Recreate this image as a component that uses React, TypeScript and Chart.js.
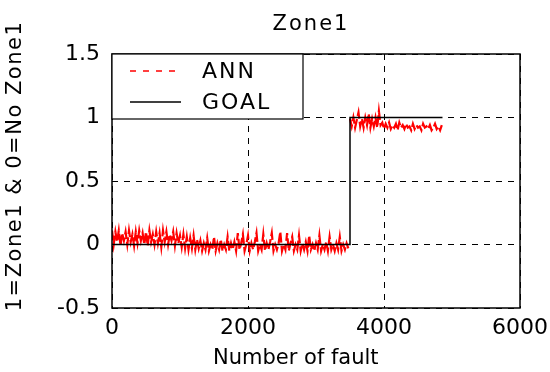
import React, { useEffect, useRef } from 'react';
import { Chart, registerables } from 'chart.js';

Chart.register(...registerables);

// ---------- text ----------
const TITLE = 'Zone1';
const X_TITLE = 'Number of fault';
const Y_TITLE = '1=Zone1 & 0=No Zone1';
const SERIES_LABELS = ['ANN', 'GOAL'];

// ---------- axes ----------
const X_MIN = 0;
const X_MAX = 6000;
const X_STEP = 2000;
const Y_MIN = -0.5;
const Y_MAX = 1.5;
const Y_STEP = 0.5;

// ---------- data ----------
// ANN output, sampled every ANN_X_STEP faults
const ANN_X_STEP = 25;
// faults 0 .. 3475 (target 0)
const annNoZone = [
  0.11, 0.00, 0.10, 0.02, 0.11, -0.01, 0.09, 0.03, 0.10, 0.00,
  0.11, 0.02, 0.08, -0.01, 0.10, 0.01, 0.11, 0.03, 0.09, 0.00,
  0.10, -0.01, 0.11, 0.02, 0.08, 0.00, 0.10, 0.01, 0.09, -0.02,
  0.11, 0.02, 0.10, 0.00, 0.08, 0.03, 0.10, -0.01, 0.09, 0.01,
  0.07, -0.02, 0.08, -0.03, 0.06, -0.04, 0.05, -0.03, 0.07, -0.04,
  0.04, -0.03,
  0.03, -0.05, 0.01, -0.04, 0.05, -0.05, 0.00, -0.04, 0.06, -0.05,
  0.01, -0.04, 0.04, -0.05, 0.00, -0.04, 0.06, -0.05, 0.01, -0.04,
  0.02, -0.05, 0.09, -0.04, 0.01, 0.08, -0.05, 0.00, 0.07, -0.05,
  0.01, -0.04, 0.02, 0.09, -0.05, 0.00, -0.04, 0.08, -0.05, 0.01,
  -0.04, 0.02, 0.09, -0.05, 0.00, -0.04, 0.01, 0.10, -0.05, 0.00,
  -0.04, 0.09, -0.05, 0.01, 0.06, -0.05, 0.00, -0.04, 0.07, -0.05,
  0.01, -0.04, 0.02, -0.05, 0.07, -0.04, 0.00, -0.05, 0.01, -0.04,
  0.07, -0.05, 0.00, -0.04, 0.02, -0.05, 0.06, -0.04, 0.00, -0.05,
  0.01, -0.04, 0.06, -0.05, 0.00, -0.04, 0.01, -0.03,
];
// faults 3500 .. 4850 (target 1)
const ZONE_START = 3500;
const annZone = [
  0.99, 0.93, 1.00, 0.92, 0.98, 1.04, 0.93, 0.99, 0.92, 1.00,
  0.94, 1.03, 0.92, 0.99, 0.93, 1.00, 0.92, 1.05, 0.94,
  0.96, 0.91, 0.95, 0.92, 0.96, 0.91, 0.94, 0.92, 0.95, 0.90,
  0.96, 0.92, 0.94, 0.91, 0.95, 0.92, 0.93, 0.90,
  0.95, 0.91, 0.94, 0.92, 0.93, 0.90, 0.95, 0.92, 0.93, 0.91,
  0.94, 0.90, 0.92, 0.95, 0.91, 0.93, 0.90, 0.94,
];

// Goal (target) step
const goalX = [0, 3500, 3500, 4860];
const goalY = [0, 0, 1, 1];

const FONT = '"DejaVu Sans", "Liberation Sans", sans-serif';

const annPoints: { x: number; y: number | null }[] = [
  ...annNoZone.map((v, i) => ({ x: i * ANN_X_STEP, y: v })),
  { x: ZONE_START - ANN_X_STEP / 2, y: null },
  ...annZone.map((v, i) => ({ x: ZONE_START + i * ANN_X_STEP, y: v })),
];

const decorPlugin = {
  id: 'decor',
  beforeDraw(chart: any) {
    const { ctx, width, height } = chart;
    ctx.save();
    ctx.fillStyle = '#fff';
    ctx.fillRect(0, 0, width, height);
    ctx.restore();
  },
  afterDatasetsDraw(chart: any) {
    const { ctx, chartArea: a } = chart;
    ctx.save();
    ctx.setLineDash([]);
    ctx.strokeStyle = '#000';
    ctx.lineWidth = 1.5;
    ctx.strokeRect(a.left, a.top, a.right - a.left, a.bottom - a.top);

    // legend box
    const bx = a.left;
    const by = a.top;
    const bw = 191;
    const bh = 65;
    ctx.fillStyle = '#fff';
    ctx.fillRect(bx, by, bw, bh);
    ctx.lineWidth = 1.2;
    ctx.strokeRect(bx, by, bw, bh);
    chart.data.datasets.forEach((ds: any, i: number) => {
      const y = by + 17 + i * 31;
      ctx.save();
      ctx.strokeStyle = ds.borderColor;
      ctx.lineWidth = i === 0 ? 1.5 : ds.borderWidth;
      ctx.setLineDash(i === 0 ? [6, 7] : []);
      ctx.beginPath();
      ctx.moveTo(bx + 18, y);
      ctx.lineTo(bx + 69, y);
      ctx.stroke();
      ctx.restore();
      ctx.fillStyle = '#000';
      ctx.font = `22px ${FONT}`;
      (ctx as any).letterSpacing = '2px';
      ctx.textAlign = 'left';
      ctx.textBaseline = 'middle';
      ctx.fillText(ds.label, bx + 90, y + 1);
    });
    ctx.restore();
  },
  afterDraw(chart: any) {
    const { ctx } = chart;
    ctx.save();
    ctx.fillStyle = '#000';
    ctx.textBaseline = 'middle';
    ctx.textAlign = 'center';
    ctx.font = `21px ${FONT}`;
    (ctx as any).letterSpacing = '2px';
    ctx.fillText(TITLE, 311, 25);
    (ctx as any).letterSpacing = '0px';
    ctx.textAlign = 'left';
    ctx.fillText(X_TITLE, 213, 359);
    ctx.translate(16, 166);
    ctx.rotate(-Math.PI / 2);
    ctx.textAlign = 'center';
    (ctx as any).letterSpacing = '1.5px';
    ctx.fillText(Y_TITLE, 0, 0);
    ctx.restore();
  },
};

export default function App() {
  const ref = useRef<HTMLCanvasElement | null>(null);

  useEffect(() => {
    if (!ref.current) return;
    Chart.defaults.color = '#000';
    Chart.defaults.font.family = FONT;
    const chart = new Chart(ref.current, {
      type: 'line',
      data: {
        datasets: [
          {
            label: SERIES_LABELS[0],
            data: annPoints,
            borderColor: '#ff0000',
            borderWidth: 2.2,
            borderDash: [10, 3],
            pointRadius: 0,
            tension: 0,
            fill: false,
            spanGaps: false,
            order: 1,
          },
          {
            label: SERIES_LABELS[1],
            data: goalX.map((x, i) => ({ x, y: goalY[i] })),
            borderColor: '#000000',
            borderWidth: 1.5,
            pointRadius: 0,
            tension: 0,
            fill: false,
            order: 0,
          },
        ],
      },
      options: {
        animation: false,
        responsive: false,
        devicePixelRatio: 1,
        events: [],
        layout: { padding: { top: 54, right: 30, left: 0, bottom: 0 } },
        plugins: {
          legend: { display: false },
          title: { display: false },
          tooltip: { enabled: false },
        },
        scales: {
          x: {
            type: 'linear',
            min: X_MIN,
            max: X_MAX,
            ticks: {
              stepSize: X_STEP,
              padding: 7,
              maxRotation: 0,
              font: { size: 22, family: FONT },
              color: '#000',
              callback: (v: any) => String(v),
            },
            grid: { color: '#000', lineWidth: 1, drawTicks: false },
            border: { display: false, dash: [6, 6] },
            afterFit: (s: any) => {
              s.height = 64;
              s.paddingRight = 30;
              s.paddingLeft = 0;
            },
          },
          y: {
            type: 'linear',
            min: Y_MIN,
            max: Y_MAX,
            ticks: {
              stepSize: Y_STEP,
              padding: 12,
              font: { size: 22, family: FONT },
              color: '#000',
              callback: (v: any) => String(v),
            },
            grid: { color: '#000', lineWidth: 1, drawTicks: false },
            border: { display: false, dash: [6, 6] },
            afterFit: (s: any) => {
              s.width = 112;
            },
          },
        },
      },
      plugins: [decorPlugin],
    });
    return () => chart.destroy();
  }, []);

  return (
    <div style={{ position: 'fixed', left: 0, top: 0, width: 550, height: 372, background: '#fff' }}>
      <canvas ref={ref} width={550} height={372} style={{ width: 550, height: 372, display: 'block' }} />
    </div>
  );
}
